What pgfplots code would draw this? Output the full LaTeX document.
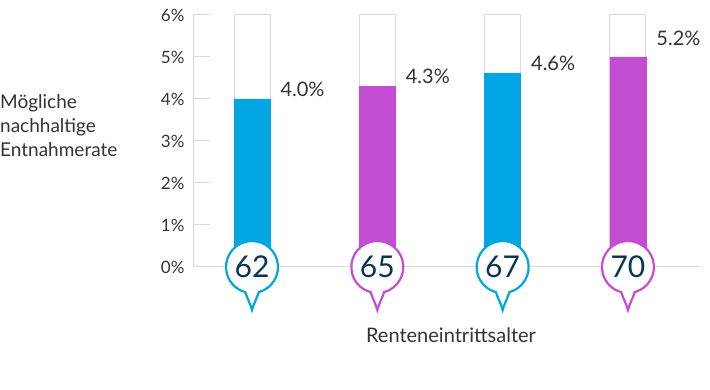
\documentclass[border=0pt]{standalone}
\usepackage{fontspec}
\setmainfont{Lato}
\usepackage{pgfplots}
\pgfplotsset{compat=1.18}
\definecolor{cblue}{HTML}{00A5E1}
\definecolor{cpurp}{HTML}{C44ED3}
\definecolor{cgrid}{HTML}{D9D9D9}
\definecolor{ctext}{HTML}{333333}
\definecolor{cnavy}{HTML}{0B3555}
\pgfdeclareplotmark{pin}{%
 \pgfpathmoveto{\pgfpointpolar{-75}{26bp}}%
 \pgfpatharc{-75}{255}{26bp}%
 \pgfpathcurveto{\pgfpoint{-5bp}{-31bp}}{\pgfpoint{-1.5bp}{-37bp}}{\pgfpoint{0bp}{-43bp}}%
 \pgfpathcurveto{\pgfpoint{1.5bp}{-37bp}}{\pgfpoint{5bp}{-31bp}}{\pgfpointpolar{-75}{26bp}}%
 \pgfpathclose
 \pgfusepathqfillstroke}
\begin{document}
\begin{tikzpicture}
\useasboundingbox (0,0) rectangle (710bp,390bp);
\begin{axis}[
  at={(193bp,123bp)}, anchor=south west,
  scale only axis, width=507bp, height=252bp,
  xmin=-0.471, xmax=3.575, ymin=0, ymax=6,
  clip=false,
  axis lines*=left,
  axis line style={cgrid, line width=1bp},
  xtick=\empty,
  ytick={0,1,2,3,4,5,6},
  tick align=inside,
  major tick length=17bp,
  tick style={cgrid, line width=1bp},
  /pgf/number format/assume math mode=true,
  yticklabel={\pgfmathprintnumber{\tick}\%},
  yticklabel style={font=\fontsize{17bp}{20bp}\selectfont, text=ctext, xshift=-5bp},
]
\addplot[ybar, bar width=36bp, bar shift=0pt, fill=white, draw=cgrid, line width=1bp]
  coordinates {(0,6) (1,6) (2,6) (3,6)};
\addplot[ybar, bar width=36bp, bar shift=0pt, fill=cblue, draw=cblue, line width=0.5bp]
  coordinates {(0,4.0) (2,4.62)};
\addplot[ybar, bar width=36bp, bar shift=0pt, fill=cpurp, draw=cpurp, line width=0.5bp]
  coordinates {(1,4.3) (3,5.0)};
% value labels
\addplot[only marks, mark=none,
  point meta=explicit symbolic, nodes near coords,
  nodes near coords align={anchor=west},
  every node near coord/.append style={anchor=west, xshift=25bp, yshift=10bp, font=\fontsize{20bp}{22bp}\selectfont, text=ctext}]
  coordinates {(0,4.0)[4.0\%] (1,4.3)[4.3\%] (2,4.62)[4.6\%] (3,5.2)[5.2\%]};
\addplot[only marks, mark=pin, mark options={draw=cblue, fill=white, line width=2.2bp},
  point meta=explicit symbolic, nodes near coords,
  nodes near coords align={anchor=center},
  every node near coord/.append style={anchor=center, font=\fontsize{30bp}{32bp}\selectfont, text=cnavy}]
  coordinates {(0,0)[62] (2,0)[67]};
\addplot[only marks, mark=pin, mark options={draw=cpurp, fill=white, line width=2.2bp},
  point meta=explicit symbolic, nodes near coords,
  nodes near coords align={anchor=center},
  every node near coord/.append style={anchor=center, font=\fontsize{30bp}{32bp}\selectfont, text=cnavy}]
  coordinates {(1,0)[65] (3,0)[70]};
\end{axis}
\node[anchor=west, align=left, inner sep=0pt, font=\fontsize{19bp}{24bp}\selectfont, text=ctext] at (0bp,264bp) {Mögliche\\nachhaltige\\Entnahmerate};
\node[font=\fontsize{20bp}{22bp}\selectfont, text=ctext] at (451bp,55bp) {Renteneintrittsalter};
\end{tikzpicture}
\end{document}
